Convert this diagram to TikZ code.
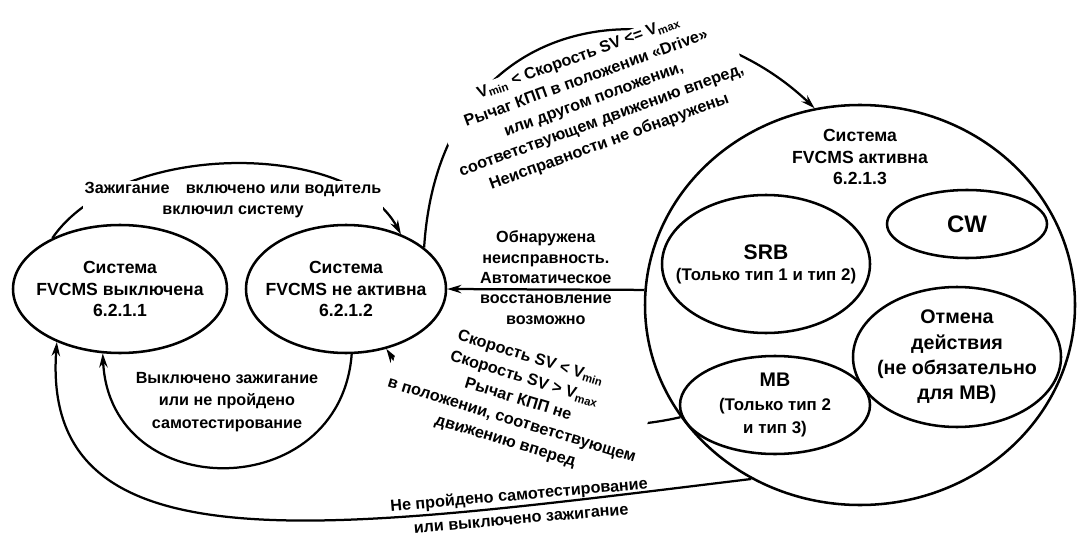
\documentclass[tikz,border=0pt]{standalone}
\usepackage{fontspec}
\setmainfont{Liberation Sans}
\usetikzlibrary{shapes.geometric,arrows.meta,backgrounds}
\tikzset{
  state/.style={draw, ellipse, line width=1.8pt, inner sep=0pt},
  stext/.style={align=center, font=\bfseries\fontsize{12.5}{15.5}\selectfont},
  ltext/.style={align=center, font=\bfseries\fontsize{11.5}{14.5}\selectfont},
  link/.style={line width=1.6pt, -{Stealth[length=10pt,width=6pt]}},
  gap/.style={fill=white, inner sep=1pt},
}
\begin{document}
\begin{tikzpicture}[x=0.25mm, y=-0.25mm]
\useasboundingbox (0,0) rectangle (1077,538);
% states
\node[state, minimum width=53.5mm, minimum height=32mm] (off) at (120,289) {};
\node[stext] (offtxt) at (off) {Система\\FVCMS выключена\\6.2.1.1};
\node[state, minimum width=50mm, minimum height=32mm] (inact) at (346,289) {};
\node[stext] (inacttxt) at (inact) {Система\\FVCMS не активна\\6.2.1.2};
\node[state, minimum width=107.5mm, minimum height=100mm] (act) at (860,305) {};
\node[stext] (acttxt) at (860,157) {Система\\FVCMS активна\\6.2.1.3};
% functions inside the active state
\node[state, minimum width=52mm, minimum height=34.5mm] (srb) at (766,264) {};
\node[align=center, font=\bfseries\fontsize{12}{15}\selectfont] (srbtxt) at (srb)
  {{\fontsize{15}{18}\selectfont SRB}\\(Только тип 1 и тип 2)};
\node[state, minimum width=40mm, minimum height=17mm] (cw) at (967,224) {};
\node[font=\bfseries\fontsize{17}{20}\selectfont] (cwtxt) at (cw) {CW};
\node[state, minimum width=52mm, minimum height=35mm] (cancel) at (957,357) {};
\node[align=center, font=\bfseries\fontsize{14}{18}\selectfont] (canceltxt) at (cancel)
  {Отмена\\действия\\(не обязательно\\для МВ)};
\node[state, minimum width=47.5mm, minimum height=24.5mm] (mb) at (775,405) {};
\node[align=center, font=\bfseries\fontsize{12}{17}\selectfont] (mbtxt) at (mb)
  {{\fontsize{14}{17}\selectfont МВ}\\(Только тип 2\\и тип 3)};
% transitions
\begin{pgfonlayer}{background}
\draw[link] (off.143) .. controls (120,140) and (350,140) .. (inact.45);
\node[ltext, gap] (onlbl) at (233,200) {Зажигание\quad включено или водитель\\включил систему};
\draw[link] (inact.28) .. controls (440,0) and (680,-20) .. (act.103);
\node[ltext, gap, rotate=20, font=\bfseries\fontsize{11.5}{16}\selectfont] (fwdlbl) at (594,100)
  {V\textsubscript{min} < Скорость SV <= V\textsubscript{max}\\Рычаг КПП в положении «Drive»\\или другом положении,\\соответствующем движению вперед,\\Неисправности не обнаружены};
\draw[link] (act.176) -- (inact.east)
  node[midway, above, ltext] (faultlbl) {Обнаружена\\неисправность.\\Автоматическое}
  node[midway, below, ltext] (faultlbl2) {восстановление\\возможно};
\draw[link] (act.212) .. controls (560,445) and (420,400) .. (inact.304);
\node[ltext, gap, rotate=-17, font=\bfseries\fontsize{11.5}{15.5}\selectfont] (speedlbl) at (518,400)
  {Скорость SV < V\textsubscript{min}\\Скорость SV > V\textsubscript{max}\\Рычаг КПП не\\в положении, соответствующем\\движению вперед};
\draw[link] (inact.275) .. controls (340,505) and (110,505) .. (off.255);
\node[ltext, font=\bfseries\fontsize{11.5}{16}\selectfont] (offlbl) at (227,402)
  {Выключено зажигание\\или не пройдено\\самотестирование};
\draw[link] (act.238) .. controls (330,530) and (40,575) .. (off.220);
\node[ltext, rotate=5, font=\bfseries\fontsize{11.5}{17}\selectfont] (testlbl) at (520,506)
  {Не пройдено самотестирование\\или выключено зажигание};
\end{pgfonlayer}
\end{tikzpicture}
\end{document}
